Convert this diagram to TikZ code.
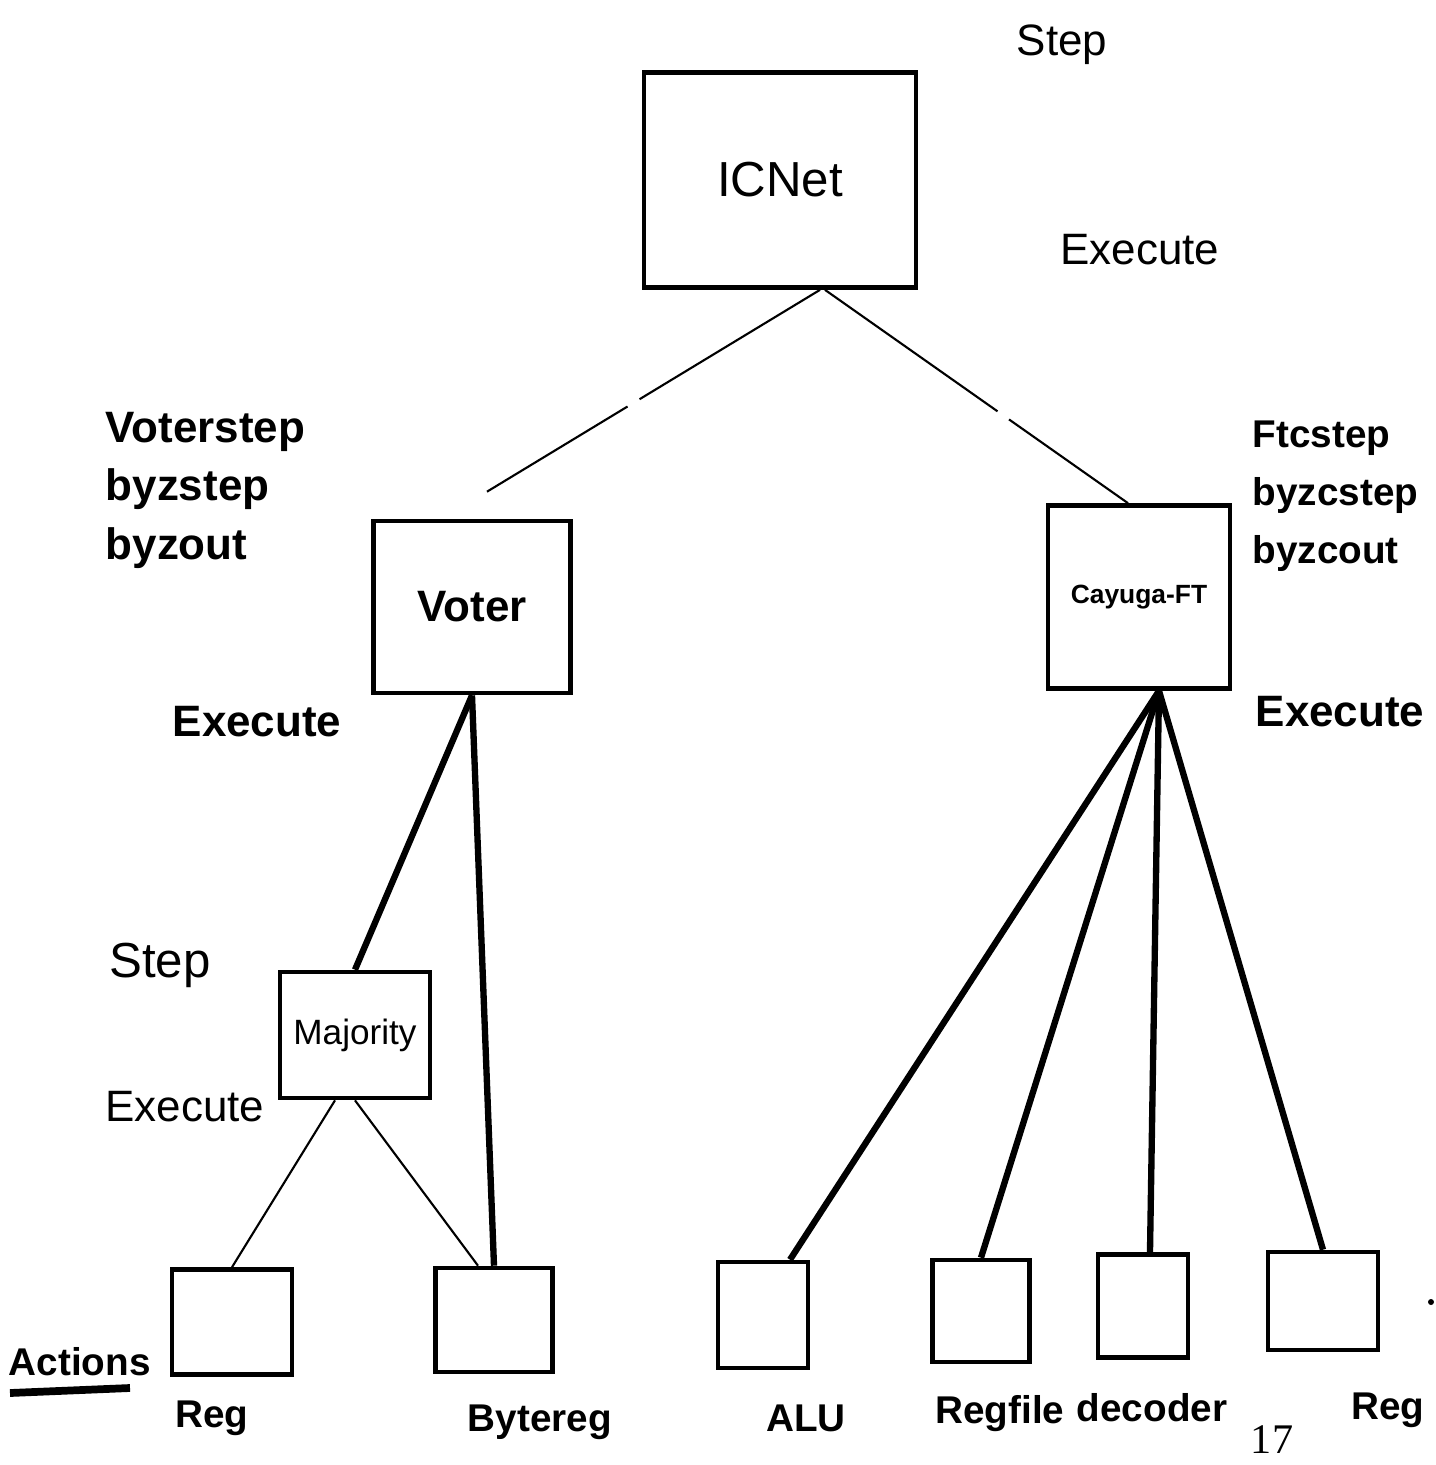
\documentclass[tikz,border=0pt]{standalone}
\usepackage{fontspec}
\setmainfont{Liberation Sans}
\newfontfamily\numfont{Liberation Serif}
\usetikzlibrary{calc}
\begin{document}
\begin{tikzpicture}[x=0.01cm,y=-0.01cm,
  blk/.style={draw,line width=1.3pt},
  heavy/.style={line width=1.8pt},
  light/.style={line width=0.6pt},
  broken/.style={line width=0.6pt,dash pattern=on 60pt off 4pt},
  lbl/.style={inner sep=0pt,font=\fontsize{12.5}{15}\selectfont},
  blbl/.style={inner sep=0pt,font=\bfseries\fontsize{12.5}{15}\selectfont},
  bot/.style={inner sep=0pt,font=\bfseries\fontsize{11}{14}\selectfont}]
\useasboundingbox (0,0) rectangle (1436,1465);
\clip (0,0) rectangle (1436,1465);

% boxes
\node[blk,minimum width=2.72cm,minimum height=2.15cm] (icnet) at (780,180) {};
\node[blk,minimum width=1.97cm,minimum height=1.72cm] (voter) at (472,607) {};
\node[blk,minimum width=1.82cm,minimum height=1.83cm] (cay) at (1139,597) {};
\node[blk,minimum width=1.50cm,minimum height=1.26cm] (maj) at (355,1035) {};
\node[blk,minimum width=1.20cm,minimum height=1.05cm] (reg) at (232,1322) {};
\node[blk,minimum width=1.17cm,minimum height=1.04cm] (byte) at (494,1320) {};
\node[blk,minimum width=0.90cm,minimum height=1.06cm] (alu) at (763,1315) {};
\node[blk,minimum width=0.97cm,minimum height=1.02cm] (rf) at (981,1311) {};
\node[blk,minimum width=0.90cm,minimum height=1.03cm] (dec) at (1143,1306) {};
\node[blk,minimum width=1.10cm,minimum height=0.98cm] (regb) at (1323,1301) {};

% connectors
\draw[broken] ($(icnet.south)+(40,0)$) -- ($(voter.north)+(15,-27)$);
\draw[broken] ($(icnet.south)+(45,0)$) -- ($(cay.north)+(-11,0)$);
\draw[heavy] (voter.south) -- (maj.north);
\draw[heavy] (voter.south) -- (byte.north);
\draw[light] ($(maj.south)+(-20,0)$) -- (reg.north);
\draw[light] (maj.south) -- ($(byte.north)+(-16,0)$);
\draw[heavy] ($(cay.south)+(20,0)$) -- ($(alu.north)+(27,0)$);
\draw[heavy] ($(cay.south)+(20,0)$) -- (rf.north);
\draw[heavy] ($(cay.south)+(20,0)$) -- ($(dec.north)+(7,0)$);
\draw[heavy] ($(cay.south)+(20,0)$) -- (regb.north);

% labels inside boxes
\node[lbl,font=\fontsize{14}{17}\selectfont] (icnett) at (icnet) {ICNet};
\node[blbl] (votert) at (voter) {Voter};
\node[blbl,font=\bfseries\fontsize{7.5}{9}\selectfont] (cayt) at (cay) {Cayuga-FT};
\node[lbl,font=\fontsize{10}{12}\selectfont] (majt) at (maj) {Majority};

% method labels
\node[lbl] (step1) at (1062,45) {Step};
\node[lbl] (exec1) at (1140,250) {Execute};
\node[blbl,align=left,anchor=north west,font=\bfseries\fontsize{12.5}{16.5}\selectfont] (vsteps) at (105,412) {Voterstep\\byzstep\\byzout};
\node[blbl] (exec2) at (257,722) {Execute};
\node[lbl,font=\fontsize{14}{17}\selectfont] (step2) at (160,965) {Step};
\node[lbl] (exec3) at (185,1107) {Execute};
\node[blbl,align=left,anchor=north west,font=\bfseries\fontsize{11}{16.5}\selectfont] (fsteps) at (1252,420) {Ftcstep\\byzcstep\\byzcout};
\node[blbl] (exec4) at (1340,712) {Execute};

% action labels
\node[bot,anchor=west] (act) at (8,1362) {Actions};
\draw[line width=2.2pt] (10,1393) -- (130,1388);
\node[bot] (l1) at (212,1418) {Reg};
\node[bot] (l2) at (540,1422) {Bytereg};
\node[bot] (l3) at (806,1418) {ALU};
\node[bot] (l4) at (1000,1414) {Regfile};
\node[bot] (l5) at (1152,1408) {decoder};
\node[bot] (l6) at (1388,1410) {Reg};
\node[inner sep=0pt,font=\numfont\fontsize{12}{14}\selectfont] (pg) at (1272,1440) {17};
\fill (1431,1302) circle (3);
\end{tikzpicture}
\end{document}
